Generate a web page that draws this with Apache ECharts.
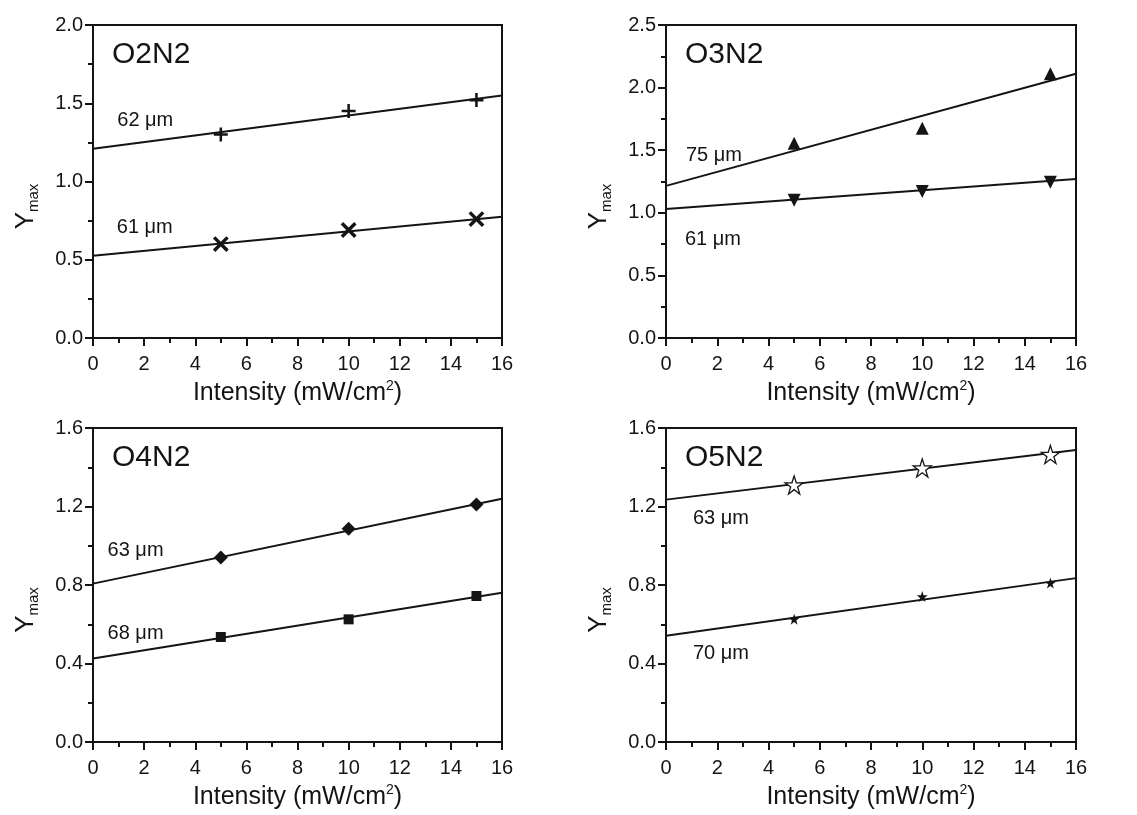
<!DOCTYPE html>
<html>
<head>
<meta charset="utf-8">
<script src="https://cdn.jsdelivr.net/npm/echarts@6/dist/echarts.min.js"></script>
<style>
  html, body { margin: 0; padding: 0; background: #fff; }
  #main { width: 1137px; height: 815px; }
</style>
</head>
<body>
<div id="main"></div>
<script>
// intensity values (mW/cm2) where Ymax was measured
const intensity = [5, 10, 15];
const fitX = [0, 16];

// O2N2
const o2n2_62 = [1.30, 1.45, 1.52];
const o2n2_62_fit = [1.21, 1.55];
const o2n2_61 = [0.60, 0.69, 0.76];
const o2n2_61_fit = [0.525, 0.775];

// O3N2
const o3n2_75 = [1.555, 1.675, 2.11];
const o3n2_75_fit = [1.215, 2.11];
const o3n2_61 = [1.10, 1.17, 1.245];
const o3n2_61_fit = [1.03, 1.27];

// O4N2
const o4n2_63 = [0.94, 1.087, 1.21];
const o4n2_63_fit = [0.807, 1.24];
const o4n2_68 = [0.535, 0.625, 0.744];
const o4n2_68_fit = [0.425, 0.761];

// O5N2
const o5n2_63 = [1.31, 1.396, 1.465];
const o5n2_63_fit = [1.235, 1.488];
const o5n2_70 = [0.626, 0.741, 0.81];
const o5n2_70_fit = [0.541, 0.835];

const panelNames = ['O2N2', 'O3N2', 'O4N2', 'O5N2'];
const yMax = [2.0, 2.5, 1.6, 1.6];
const yStep = [0.5, 0.5, 0.4, 0.4];
// text labels next to the lines: [x, y, text]
const lineLabels = [
    [[0.95, 1.387, '62 μm'], [0.93, 0.704, '61 μm']],
    [[0.78, 1.46, '75 μm'], [0.74, 0.79, '61 μm']],
    [[0.57, 0.977, '63 μm'], [0.57, 0.552, '68 μm']],
    [[1.05, 1.138, '63 μm'], [1.05, 0.45, '70 μm']]
];

const font = '"Liberation Sans", Arial, sans-serif';
const ink = '#141414';

const plusPath = 'path://M4.1,0H5.9V4.1H10V5.9H5.9V10H4.1V5.9H0V4.1H4.1Z';
const starPath = 'path://M50,0L61.8,35.5L99,35.5L69,57.5L80.4,93L50,71L19.6,93L31,57.5L1,35.5L38.2,35.5Z';

const grids = [
    {left: 93, top: 25, width: 409, height: 313},
    {left: 666, top: 25, width: 410, height: 313},
    {left: 93, top: 428, width: 409, height: 314},
    {left: 666, top: 428, width: 410, height: 314}
];

const pts = (ys) => intensity.map((x, i) => [x, ys[i]]);
const fit = (ys) => fitX.map((x, i) => [x, ys[i]]);

const markers = [
    [
        {data: o2n2_62, fit: o2n2_62_fit, symbol: plusPath, size: 14, rotate: 0, fill: ink},
        {data: o2n2_61, fit: o2n2_61_fit, symbol: plusPath, size: 19, rotate: 45, fill: ink}
    ],
    [
        {data: o3n2_75, fit: o3n2_75_fit, symbol: 'triangle', size: 13, rotate: 0, fill: ink},
        {data: o3n2_61, fit: o3n2_61_fit, symbol: 'triangle', size: 13, rotate: 180, fill: ink}
    ],
    [
        {data: o4n2_63, fit: o4n2_63_fit, symbol: 'diamond', size: 14, rotate: 0, fill: ink},
        {data: o4n2_68, fit: o4n2_68_fit, symbol: 'rect', size: 10, rotate: 0, fill: ink}
    ],
    [
        {data: o5n2_63, fit: o5n2_63_fit, symbol: starPath, size: 18, rotate: 0, fill: '#fff'},
        {data: o5n2_70, fit: o5n2_70_fit, symbol: starPath, size: 11, rotate: 0, fill: ink}
    ]
];

const xAxes = [], yAxes = [], series = [], titles = [];

grids.forEach((g, k) => {
    xAxes.push({
        type: 'value', gridIndex: k, min: 0, max: 16, interval: 2,
        name: '{t|Intensity (mW/cm}{s|2}{t|)}',
        nameLocation: 'middle', nameGap: 41,
        nameTextStyle: {
            lineHeight: 28,
            rich: {
                t: {fontSize: 25, fontFamily: font, color: ink, lineHeight: 28},
                s: {fontSize: 14, fontFamily: font, color: ink, verticalAlign: 'top', lineHeight: 14}
            }
        },
        axisLine: {lineStyle: {color: ink, width: 2}},
        axisTick: {inside: false, length: 8, lineStyle: {color: ink, width: 2}},
        minorTick: {show: true, splitNumber: 2, length: 5, lineStyle: {color: ink, width: 2}},
        splitLine: {show: false},
        axisLabel: {margin: 16, fontSize: 20, fontFamily: font, color: ink}
    });
    yAxes.push({
        type: 'value', gridIndex: k, min: 0, max: yMax[k], interval: yStep[k],
        name: '{y|Y}{s|max}',
        nameLocation: 'middle', nameGap: 52, nameRotate: 90,
        nameTextStyle: {
            padding: [0, 50, 0, 0],
            rich: {
                y: {fontSize: 26, fontFamily: font, color: ink, lineHeight: 30},
                s: {fontSize: 15, fontFamily: font, color: ink, verticalAlign: 'bottom', lineHeight: 15}
            }
        },
        axisLine: {lineStyle: {color: ink, width: 2}},
        axisTick: {inside: false, length: 8, lineStyle: {color: ink, width: 2}},
        minorTick: {show: true, splitNumber: 2, length: 5, lineStyle: {color: ink, width: 2}},
        splitLine: {show: false},
        axisLabel: {margin: 10, fontSize: 20, fontFamily: font, color: ink,
            formatter: v => v.toFixed(1)}
    });
    titles.push({
        text: panelNames[k],
        left: g.left + 19, top: g.top + 15, padding: 0,
        textStyle: {fontSize: 30, fontWeight: 'normal', fontFamily: font, color: ink}
    });
    markers[k].forEach(m => {
        series.push({
            type: 'line', xAxisIndex: k, yAxisIndex: k, data: fit(m.fit),
            symbol: 'none', lineStyle: {color: ink, width: 2}, silent: true
        });
        series.push({
            type: 'scatter', xAxisIndex: k, yAxisIndex: k, data: pts(m.data),
            symbol: m.symbol, symbolSize: m.size, symbolRotate: m.rotate,
            itemStyle: {color: m.fill, borderColor: ink, borderWidth: m.fill === '#fff' ? 1.3 : 0, opacity: 1},
            z: 3
        });
    });
    series.push({
        type: 'scatter', xAxisIndex: k, yAxisIndex: k, symbolSize: 0,
        data: lineLabels[k],
        itemStyle: {opacity: 1},
        label: {show: true, position: 'right', distance: 0, formatter: p => p.value[2],
            fontSize: 20, fontFamily: font, color: ink, opacity: 1}
    });
});

const myChart = echarts.init(document.getElementById('main'));
myChart.setOption({
    backgroundColor: '#fff',
    animation: false,
    title: titles,
    grid: grids.map(g => Object.assign({show: true, borderColor: ink, borderWidth: 2, backgroundColor: 'transparent'}, g)),
    xAxis: xAxes,
    yAxis: yAxes,
    series: series
});
</script>
</body>
</html>
